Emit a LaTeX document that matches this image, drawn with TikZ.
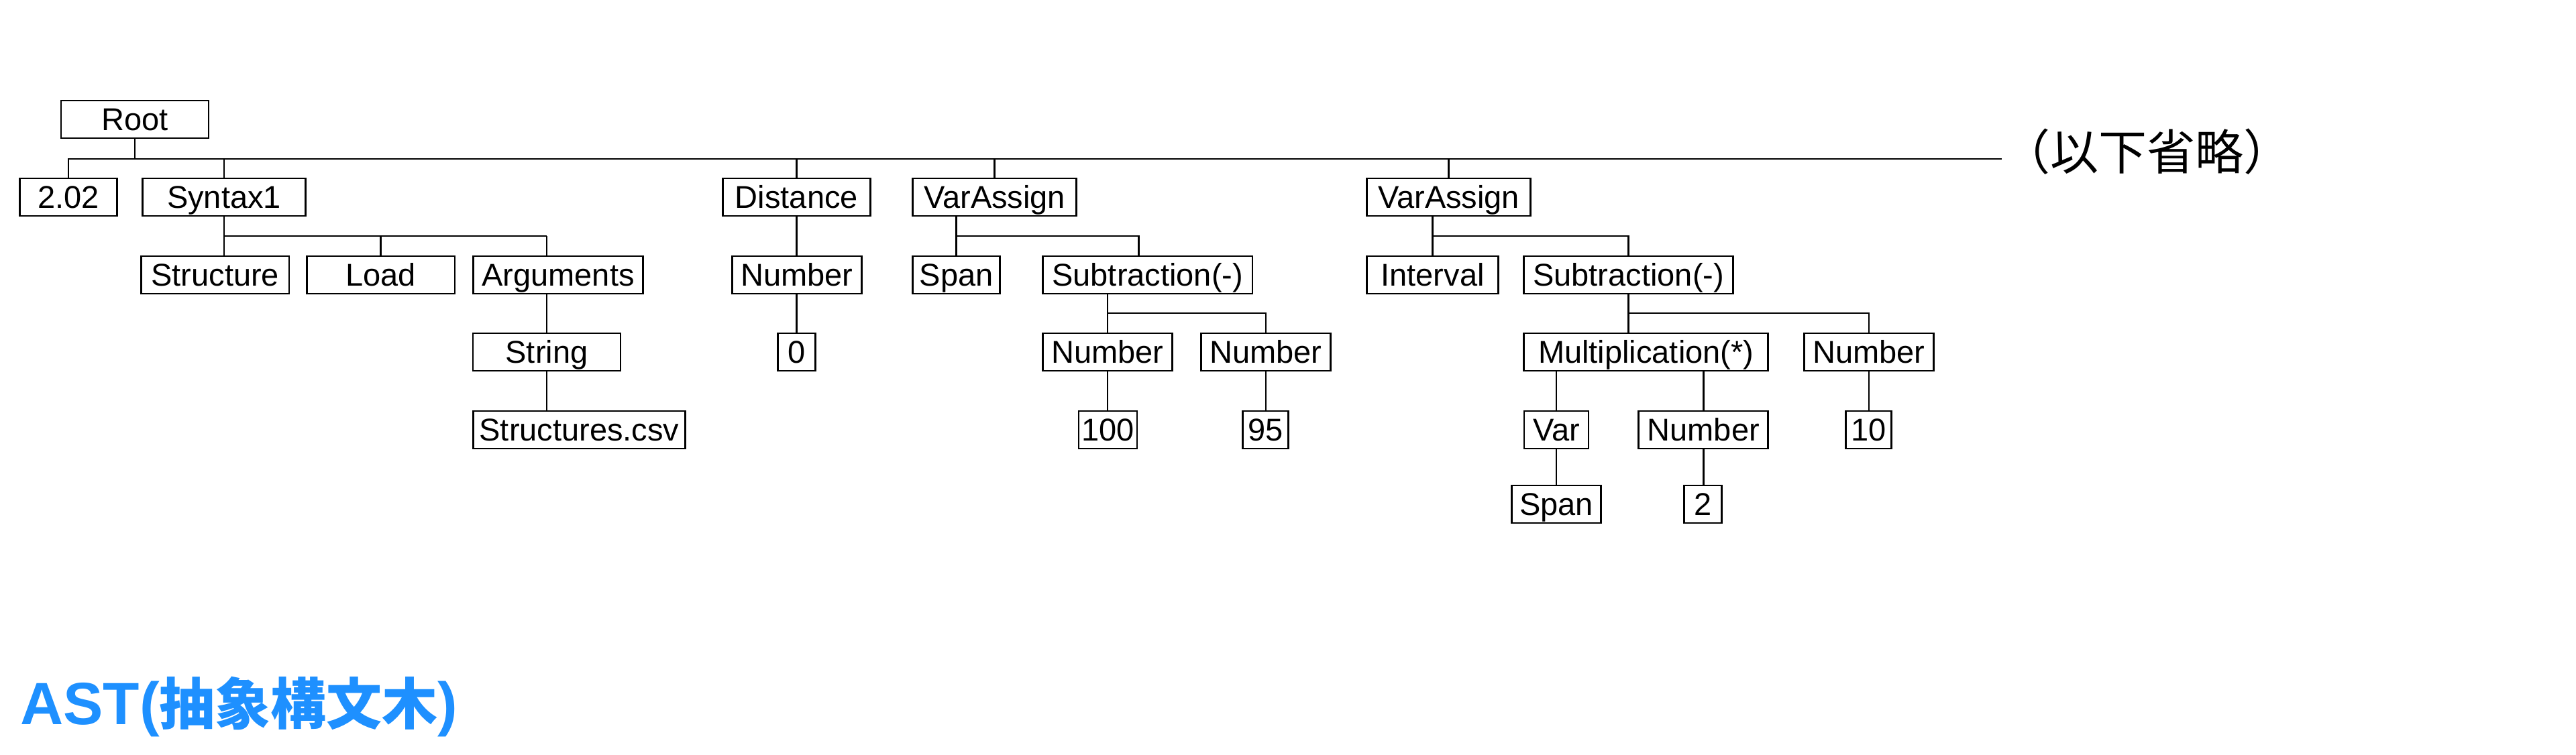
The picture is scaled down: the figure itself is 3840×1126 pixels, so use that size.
\documentclass[tikz,border=0pt]{standalone}
\usepackage{fontspec}
\setmainfont{Liberation Sans}
\newfontfamily\cjk{Noto Sans CJK JP}
\newfontfamily\latin{Liberation Sans}
\definecolor{titleblue}{RGB}{30,144,255}
\tikzset{
  box/.style={draw, line width=2.6pt, minimum height=56pt, inner sep=0pt,
    text height=36pt, text depth=3pt, font=\fontsize{47}{50}\selectfont},
  conn/.style={line width=2.6pt}
}
\begin{document}
\begin{tikzpicture}[x=1pt, y=-1pt]
\useasboundingbox (0,0) rectangle (3840,1126);
% level 0
\node[box, minimum width=220pt] (root) at (201,178) {Root};
% level 1
\node[box, minimum width=145pt] (n202) at (102,294) {2.02};
\node[box, minimum width=243pt] (syn) at (334,294) {Syntax1};
\node[box, minimum width=220pt] (dist) at (1187.4,294) {Distance};
\node[box, minimum width=244pt] (va1) at (1482.7,294) {VarAssign};
\node[box, minimum width=244pt] (va2) at (2159.7,294) {VarAssign};
% level 2
\node[box, minimum width=220.5pt] (struct) at (320.7,410) {Structure};
\node[box, minimum width=220.5pt] (load) at (567.7,410) {Load};
\node[box, minimum width=253pt] (args) at (832,410) {Arguments};
\node[box, minimum width=193pt] (num1) at (1188,410) {Number};
\node[box, minimum width=130pt] (span1) at (1425.6,410) {Span};
\node[box, minimum width=312.5pt] (sub1) at (1710.7,410) {Subtraction(-)};
\node[box, minimum width=196pt] (interval) at (2135.5,410) {Interval};
\node[box, minimum width=312pt] (sub2) at (2427.6,410) {Subtraction(-)};
% level 3
\node[box, minimum width=220pt] (string) at (815,525) {String};
\node[box, minimum width=56pt] (zero) at (1187.7,525) {0};
\node[box, minimum width=193pt] (num100p) at (1651,525) {Number};
\node[box, minimum width=193pt] (num95p) at (1887,525) {Number};
\node[box, minimum width=364pt] (mult) at (2453.7,525) {Multiplication(*)};
\node[box, minimum width=193pt] (num10p) at (2786,525) {Number};
% level 4
\node[box, minimum width=316.5pt] (csv) at (863.5,641) {Structures.csv};
\node[box, minimum width=87pt] (n100) at (1651.4,641) {100};
\node[box, minimum width=68pt] (n95) at (1886.7,641) {95};
\node[box, minimum width=96pt] (var) at (2320,641) {Var};
\node[box, minimum width=193pt] (num2p) at (2539.2,641) {Number};
\node[box, minimum width=68pt] (n10) at (2785.7,641) {10};
% level 5
\node[box, minimum width=133pt] (span2) at (2320,752) {Span};
\node[box, minimum width=56pt] (n2) at (2538.5,752) {2};
% omitted text
\node[anchor=west, inner sep=0pt, font=\cjk\fontsize{72}{72}\selectfont] (omit) at (2984,226) {（以下省略）};
% title
\node[anchor=base west, inner sep=0pt, text=titleblue] (title) at (30,1080)
  {{\latin\bfseries\fontsize{89}{90}\selectfont AST(}{\cjk\bfseries\fontsize{83}{90}\selectfont 抽象構文木}{\latin\bfseries\fontsize{89}{90}\selectfont )}};
% bus coordinates
\coordinate (rbus) at (2984,237);
\coordinate (b1) at (0,352);
\coordinate (b2) at (0,467);
% root connectors
\draw[conn] (root.south) -- (root.south |- rbus);
\draw[conn] (n202.north) |- (rbus);
\draw[conn] (syn.north) -- (syn.north |- rbus);
\draw[conn] (dist.north) -- (dist.north |- rbus);
\draw[conn] (va1.north) -- (va1.north |- rbus);
\draw[conn] (va2.north) -- (va2.north |- rbus);
% Syntax1
\draw[conn] (syn.south) -- (struct.north -| syn.south);
\draw[conn] (syn.south |- b1) -- (string.north |- b1);
\draw[conn] (load.north) -- (load.north |- b1);
\draw[conn] (args.north -| string.north) -- (string.north |- b1);
\draw[conn] (args.south -| string.north) -- (string.north);
\draw[conn] (string.south) -- (csv.north -| string.south);
% Distance
\draw[conn] (dist.south) -- (num1.north -| dist.south);
\draw[conn] (num1.south -| zero.north) -- (zero.north);
% VarAssign 1
\draw[conn] (va1.south -| span1.north) -- (span1.north);
\draw[conn] (span1.north |- b1) -| ([xshift=-13pt]sub1.north);
\draw[conn] (sub1.south -| num100p.north) -- (num100p.north);
\draw[conn] (num100p.north |- b2) -| (num95p.north);
\draw[conn] (num100p.south) -- (n100.north -| num100p.south);
\draw[conn] (num95p.south) -- (n95.north -| num95p.south);
% VarAssign 2
\draw[conn] (va2.south -| interval.north) -- (interval.north);
\draw[conn] (interval.north |- b1) -| (sub2.north);
\draw[conn] (sub2.south) -- (mult.north -| sub2.south);
\draw[conn] (sub2.south |- b2) -| (num10p.north);
\draw[conn] (mult.south -| var.north) -- (var.north);
\draw[conn] (mult.south -| num2p.north) -- (num2p.north);
\draw[conn] (var.south) -- (span2.north -| var.south);
\draw[conn] (num2p.south) -- (n2.north -| num2p.south);
\draw[conn] (num10p.south) -- (n10.north -| num10p.south);
\end{tikzpicture}
\end{document}
